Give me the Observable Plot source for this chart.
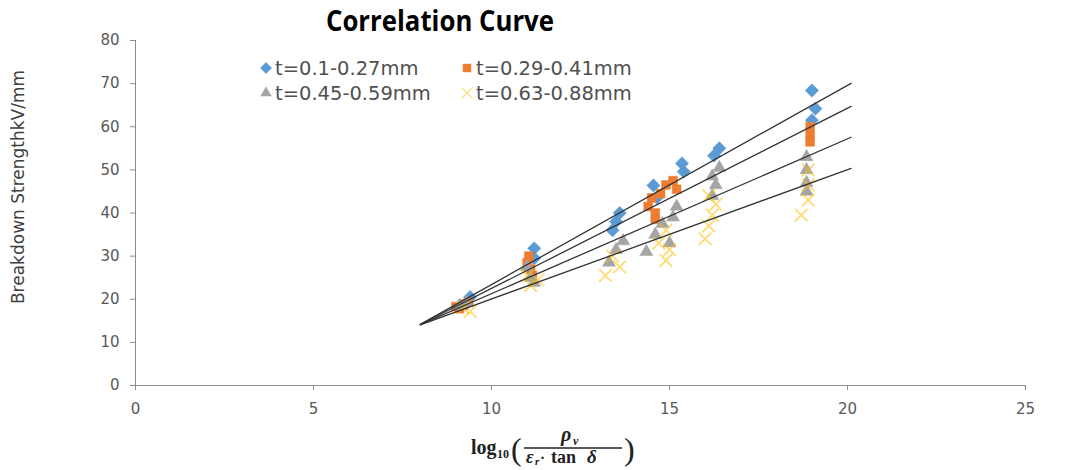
<!DOCTYPE html>
<html><head><meta charset="utf-8">
<script src="https://cdn.jsdelivr.net/npm/d3@7"></script>
<script src="https://cdn.jsdelivr.net/npm/@observablehq/plot@0.6"></script>
<style>
body{margin:0;background:#fff;}
#chart{position:relative;width:1067px;height:470px;overflow:hidden;background:#fff;}
#chart svg{position:absolute;left:0;top:0;}
</style></head><body><div id="chart"></div>
<script>
const seriesNames = ["t=0.1-0.27mm", "t=0.29-0.41mm", "t=0.45-0.59mm", "t=0.63-0.88mm"];
const seriesColors = ["#5B9BD5", "#ED7D31", "#A5A5A5", "#FFC000"];
const seriesSymbols = ["diamond2", "square2", "triangle2", "times"];

// Series values (x = log10(rho_v/(eps_r·tan δ)), y = breakdown strength kV/mm)
const s1X = [9.4, 9.3, 11.2, 11.2, 13.6, 13.4, 13.5, 14.55, 14.65, 15.35, 15.4, 16.4, 16.25, 19.0, 19.1, 19.0];
const s1Y = [20.5, 19.0, 31.8, 29.5, 40.0, 36.0, 38.0, 46.4, 43.6, 51.5, 49.6, 55.0, 53.3, 68.4, 64.2, 61.5];
const s2X = [9.0, 9.2, 9.35, 9.1, 11.05, 11.1, 11.15, 11.0, 14.4, 14.5, 14.6, 14.75, 14.9, 15.1, 15.2, 14.6, 18.95, 18.95, 18.95];
const s2Y = [18.3, 18.9, 19.3, 17.8, 30.0, 27.0, 25.5, 28.5, 41.5, 43.5, 40.0, 44.5, 46.5, 47.5, 45.5, 38.5, 60.0, 58.0, 56.5];
const s3X = [9.3, 9.1, 11.0, 11.1, 11.2, 13.3, 13.5, 13.7, 14.35, 14.6, 14.8, 15.0, 15.1, 15.2, 16.2, 16.3, 16.4, 16.2, 18.85, 18.85, 18.85, 18.85];
const s3Y = [19.2, 18.5, 27.5, 25.0, 23.8, 28.5, 31.5, 33.5, 31.0, 35.0, 37.5, 33.0, 39.0, 41.5, 48.5, 46.5, 50.5, 44.0, 53.0, 50.0, 47.0, 45.0];
const s4X = [9.4, 9.2, 11.1, 11.3, 11.0, 13.2, 13.6, 13.4, 14.9, 15.0, 14.9, 14.7, 16.1, 16.2, 16.1, 16.0, 16.3, 18.7, 18.9, 18.9, 18.9];
const s4Y = [17.2, 18.0, 23.2, 24.5, 25.5, 25.5, 27.5, 30.0, 29.0, 31.5, 36.0, 33.0, 44.0, 39.5, 37.0, 34.0, 42.0, 39.5, 46.5, 50.0, 43.0];

// Linear trendlines (slope, intercept) per series
const trendSlope = [4.62, 4.18, 3.59, 3.00];
const trendIntercept = [-22.8, -19.3, -14.6, -9.95];
const trendForecast = 1; // forward/backward extension in x units

const xTicks = [0, 5, 10, 15, 20, 25];
const yTicks = [0, 10, 20, 30, 40, 50, 60, 70, 80];

const seriesX = [s1X, s2X, s3X, s4X];
const seriesY = [s1Y, s2Y, s3Y, s4Y];
const points = [];
seriesNames.forEach((name, i) => {
  seriesX[i].forEach((x, j) => points.push({series: name, i, x, y: seriesY[i][j]}));
});
const allX = points.map(d => d.x);
const x0 = d3.min(allX) - trendForecast, x1 = d3.max(allX) + trendForecast;
const trends = [];
seriesNames.forEach((name, i) => {
  [x0, x1].forEach(x => trends.push({series: name, x, y: trendSlope[i] * x + trendIntercept[i]}));
});

const axisColor = "#8c8c8c";
const markR = [6, 5.6, 6.2, 5.8];
const plot = Plot.plot({
  width: 1067, height: 470,
  marginLeft: 135, marginRight: 42, marginTop: 40, marginBottom: 85,
  style: {fontFamily: "DejaVu Sans", fontSize: "15px", color: "#595959", background: "transparent"},
  x: {domain: [0, 25]},
  y: {domain: [0, 80]},
  marks: [
    Plot.axisX({ticks: xTicks, tickSize: 5, tickPadding: 13, label: null, stroke: axisColor, fill: "#595959", fontSize: 15}),
    Plot.axisY({ticks: yTicks, tickSize: 5, tickPadding: 11, label: null, stroke: axisColor, fill: "#595959", fontSize: 15}),
    Plot.ruleX([0], {stroke: axisColor}),
    Plot.ruleY([0], {stroke: axisColor}),
    ...seriesNames.map((name, i) => Plot.dot(points.filter(d => d.i === i), {
      x: "x", y: "y", symbol: () => seriesSymbols[i],
      r: markR[i],
      fill: i === 3 ? "none" : seriesColors[i],
      stroke: seriesColors[i],
      strokeWidth: i === 3 ? 1.8 : 0.5,
      strokeOpacity: i === 3 ? 0.55 : 1
    })),
    Plot.line(trends, {x: "x", y: "y", z: "series", stroke: "#333", strokeWidth: 1.3})
  ]
});
document.getElementById("chart").appendChild(plot);

// Overlay: title, legend, axis titles
const ov = d3.select("#chart").append("svg").attr("width", 1067).attr("height", 470);
ov.append("text").attr("x", 440).attr("y", 31).attr("text-anchor", "middle")
  .attr("font-family", "Open Sans").attr("font-weight", "bold").attr("font-size", 28)
  .attr("textLength", 228).attr("lengthAdjust", "spacingAndGlyphs").attr("fill", "#000")
  .text("Correlation Curve");

const legX = [266, 467, 266, 467], legY = [68, 68, 93, 93];
seriesNames.forEach((name, i) => {
  const sym = {diamond2: d3.symbolDiamond2, square2: d3.symbolSquare2, triangle2: d3.symbolTriangle2, times: d3.symbolTimes}[seriesSymbols[i]];
  ov.append("path").attr("transform", `translate(${legX[i]},${legY[i]})`)
    .attr("d", d3.symbol(sym, 80)())
    .attr("fill", i === 3 ? "none" : seriesColors[i])
    .attr("stroke", seriesColors[i]).attr("stroke-width", i === 3 ? 1.4 : 0.5)
    .attr("stroke-opacity", i === 3 ? 0.45 : 1);
  ov.append("text").attr("x", legX[i] + 9).attr("y", legY[i] + 6.5)
    .attr("font-family", "DejaVu Sans").attr("font-size", 19.5).attr("fill", "#505050")
    .text(name);
});

ov.append("text").attr("transform", "translate(24,187) rotate(-90)").attr("text-anchor", "middle")
  .attr("font-family", "DejaVu Sans").attr("font-size", 17).attr("fill", "#404040")
  .text("Breakdown StrengthkV/mm");

// x-axis title: log10( rho_v / (eps_r · tan δ) )
const mf = "Liberation Serif";
const g = ov.append("g").attr("fill", "#222").attr("font-family", mf).attr("font-weight", "bold");
g.append("text").attr("x", 471).attr("y", 454).attr("font-size", 20).text("log");
g.append("text").attr("x", 497).attr("y", 458).attr("font-size", 12).text("10");
g.append("text").attr("x", 511).attr("y", 460).attr("font-size", 32).attr("font-weight", "normal").text("(");
g.append("text").attr("x", 561).attr("y", 441).attr("font-size", 20).attr("font-style", "italic").text("ρ");
g.append("text").attr("x", 573).attr("y", 445).attr("font-size", 12).attr("font-style", "italic").text("v");
g.append("line").attr("x1", 524).attr("x2", 622).attr("y1", 448).attr("y2", 448).attr("stroke", "#222").attr("stroke-width", 1.3);
g.append("text").attr("x", 526).attr("y", 463).attr("font-size", 18).attr("font-style", "italic").text("ε");
g.append("text").attr("x", 535).attr("y", 465).attr("font-size", 11).attr("font-style", "italic").text("r");
g.append("text").attr("x", 540).attr("y", 463).attr("font-size", 15).text("·");
g.append("text").attr("x", 551).attr("y", 463).attr("font-size", 18).text("tan");
g.append("text").attr("x", 587).attr("y", 463).attr("font-size", 19).attr("font-style", "italic").text("δ");
g.append("text").attr("x", 624).attr("y", 460).attr("font-size", 32).attr("font-weight", "normal").text(")");
</script></body></html>
